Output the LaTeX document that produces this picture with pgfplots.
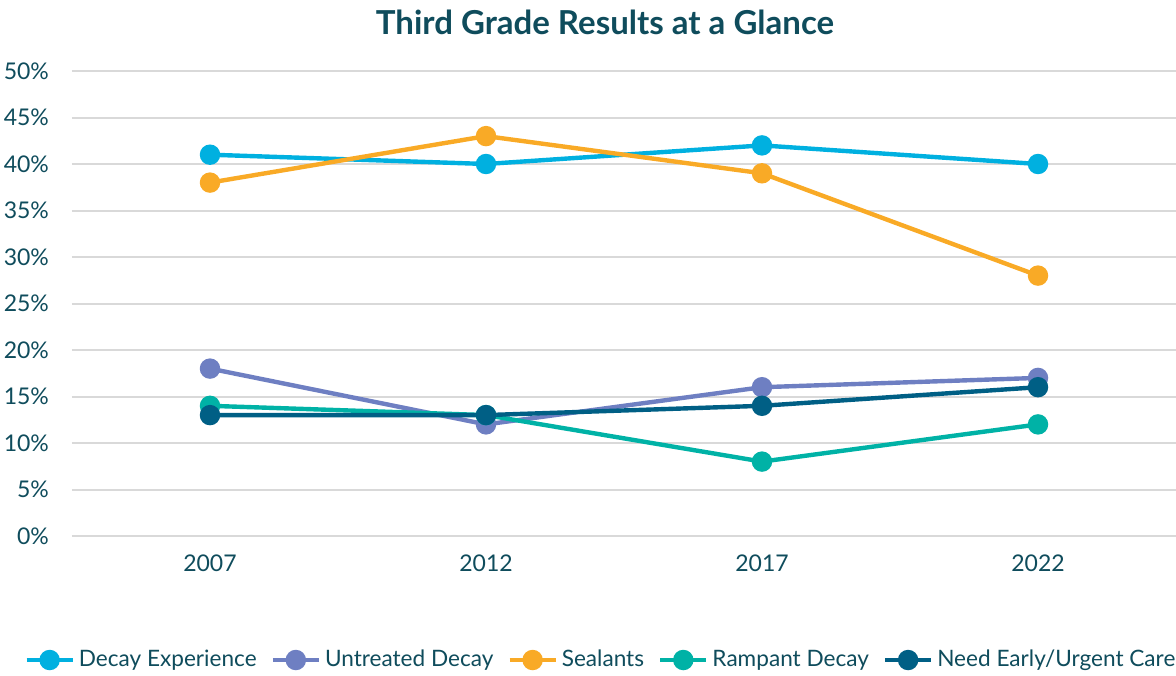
\documentclass[border=0pt]{standalone}
\usepackage{pgfplots}
\pgfplotsset{compat=1.18}
\usepackage{fontspec}
\setmainfont{Lato}
\definecolor{cDE}{HTML}{00B0E0}
\definecolor{cUD}{HTML}{6E7FC2}
\definecolor{cSE}{HTML}{F9AA26}
\definecolor{cRD}{HTML}{00B2A6}
\definecolor{cNE}{HTML}{005F85}
\definecolor{ctext}{HTML}{0F4C5C}
\definecolor{cgrid}{HTML}{D9D9D9}
\begin{document}
\begin{tikzpicture}[x=0.5pt,y=0.5pt]
\useasboundingbox (0,0) rectangle (1176,675);
\node[text=ctext, font=\fontsize{16.5}{19}\selectfont\bfseries] at (605,653) {Third Grade Results at a Glance};
\begin{axis}[
  at={(36pt,69.5pt)}, anchor=south west,
  scale only axis, width=552pt, height=232.5pt,
  xmin=-0.5, xmax=3.5, ymin=0, ymax=50,
  xtick={0,1,2,3}, xticklabels={2007,2012,2017,2022},
  ytick={0,5,...,50},
  yticklabels={0\%,5\%,10\%,15\%,20\%,25\%,30\%,35\%,40\%,45\%,50\%},
  axis line style={draw=none},
  tick style={draw=none},
  ymajorgrids, grid style={cgrid, line width=1pt},
  ticklabel style={font=\fontsize{11.5}{13}\selectfont, text=ctext},
  yticklabel style={xshift=-8pt},
  xticklabel style={yshift=-6pt},
  /pgf/number format/assume math mode=true,
  every axis plot/.append style={line width=2.2pt, mark=*, mark size=4pt},
  legend columns=5,
  legend style={draw=none, at={(0.48,-0.2667)}, anchor=center,
    font=\fontsize{11.3}{13}\selectfont, text=ctext,
    /tikz/every even column/.append style={column sep=5pt}},
  legend image code/.code={\draw[mark repeat=2,mark phase=2] plot coordinates {(0pt,0pt)(11.5pt,0pt)(23pt,0pt)};},
]
\addplot[cDE, mark options={fill=cDE}] coordinates {(0,41)(1,40)(2,42)(3,40)};
\addlegendentry{Decay Experience}
\addplot[cUD, mark options={fill=cUD}] coordinates {(0,18)(1,12)(2,16)(3,17)};
\addlegendentry{Untreated Decay}
\addplot[cSE, mark options={fill=cSE}] coordinates {(0,38)(1,43)(2,39)(3,28)};
\addlegendentry{Sealants}
\addplot[cRD, mark options={fill=cRD}] coordinates {(0,14)(1,13)(2,8)(3,12)};
\addlegendentry{Rampant Decay}
\addplot[cNE, mark options={fill=cNE}] coordinates {(0,13)(1,13)(2,14)(3,16)};
\addlegendentry{Need Early/Urgent Care}
\end{axis}
\end{tikzpicture}
\end{document}
